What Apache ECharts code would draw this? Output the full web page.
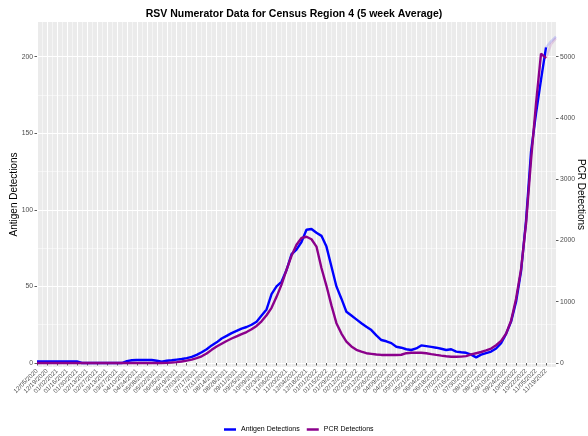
<!DOCTYPE html>
<html>
<head>
<meta charset="utf-8">
<script src="https://cdn.jsdelivr.net/npm/echarts@6/dist/echarts.min.js"></script>
<style>
  html, body { margin: 0; padding: 0; background: #fff; }
  #chart { width: 588px; height: 436px; }
</style>
</head>
<body>
<div id="chart"></div>
<script>
// Weekly 5-week averages, week 0 = 12/05/2020
const tickLabels = [
  '12/05/2020', '12/19/2020', '01/02/2021', '01/16/2021', '01/30/2021', '02/13/2021',
  '02/27/2021', '03/13/2021', '03/27/2021', '04/10/2021', '04/24/2021', '05/08/2021',
  '05/22/2021', '06/05/2021', '06/19/2021', '07/03/2021', '07/17/2021', '07/31/2021',
  '08/14/2021', '08/28/2021', '09/11/2021', '09/25/2021', '10/09/2021', '10/23/2021',
  '11/06/2021', '11/20/2021', '12/04/2021', '12/18/2021', '01/01/2022', '01/15/2022',
  '01/29/2022', '02/12/2022', '02/26/2022', '03/12/2022', '03/26/2022', '04/09/2022',
  '04/23/2022', '05/07/2022', '05/21/2022', '06/04/2022', '06/18/2022', '07/02/2022',
  '07/16/2022', '07/30/2022', '08/13/2022', '08/27/2022', '09/10/2022', '09/24/2022',
  '10/08/2022', '10/22/2022', '11/05/2022', '11/19/2022'
];

const antigen = [
  1, 1, 1, 1, 1, 1, 1, 1, 1,
  0, 0, 0, 0, 0, 0, 0, 0, 0,
  1.2, 1.8, 2, 2, 2, 2, 1.5, 0.8, 1.5, 1.8, 2.2,
  2.6, 3.2, 4, 5.3, 7, 9, 11.5, 13.5, 16, 17.7, 19.5,
  21, 22.5, 23.5, 25, 27, 31, 35, 45, 50, 53,
  60.7, 71, 74, 79, 87, 87.5, 85, 83, 76, 63,
  50, 42, 33.5, 31, 28.5, 26, 23.7, 21.5, 18, 15,
  14.2, 13, 10.6, 10, 9, 8.5, 9.5, 11.5, 11, 10.5,
  10, 9.3, 8.5, 9, 7.4, 7, 6.7, 5.5, 3.7, 5.5,
  6.5, 7.5, 9.5, 13, 19, 27, 40, 60, 93, 138,
  163, 185, 206
];
const antigenTail = [206, 210, 213]; // weeks 102-104, drawn faded

const pcr = [
  0, 0, 0, 0, 0, 0, 0, 0, 0, 0, 0, 0, 0, 0, 0, 0, 0, 0, 0, 0, 0, 0, 0, 0, 0, 0, 3,
  8, 15, 25, 40, 55, 80, 110, 155, 215, 270,
  315, 360, 400, 435, 470, 505, 550, 605, 680, 780,
  900, 1080, 1280, 1520, 1750, 1930, 2040, 2060, 2020, 1900,
  1550, 1260, 940, 650, 480, 350, 270, 215, 185, 160,
  150, 140, 132, 130, 130, 130, 135, 160, 168, 170,
  168, 160, 145, 132, 120, 110, 103, 102, 105, 112,
  140, 160, 180, 205, 235, 290, 360, 480, 690, 1050,
  1530, 2280, 3313, 4238, 5050, 4975
];
const pcrTail = [4975, 5200, 5300];

const leftTicks = [0, 50, 100, 150, 200];
const leftMinor = [25, 75, 125, 175];
const rightTicks = [0, 1000, 2000, 3000, 4000, 5000];

const FONT = 'Liberation Sans, Arial, sans-serif';
const TXT = '#4D4D4D';
const TICK = '#333333';
const BLUE = '#0000FF';
const PURPLE = '#8B008B';

const majorX = tickLabels.map((_, k) => 2 * k);
const minorX = tickLabels.map((_, k) => 2 * k + 1);
const pts = (arr, start) => arr.map((v, i) => [start + i, v]);

// ggplot-style minor grid lines, kept under the data lines
const minorGrid = {
  silent: true,
  symbol: 'none',
  z: 1,
  animation: false,
  label: { show: false },
  emphasis: { disabled: true },
  lineStyle: { color: '#fff', width: 0.5, type: 'solid', opacity: 1 },
  data: [
    ...leftMinor.map((v) => ({ yAxis: v })),
    ...minorX.map((v) => ({ xAxis: v })),
  ],
};

const chart = echarts.init(document.getElementById('chart'), null, { renderer: 'canvas' });

chart.setOption({
  backgroundColor: '#fff',
  animation: false,
  textStyle: { fontFamily: FONT },
  title: {
    text: 'RSV Numerator Data for Census Region 4 (5 week Average)',
    left: 'center',
    top: 4,
    textStyle: { fontSize: 10.5, fontWeight: 'bold', color: '#000', fontFamily: FONT },
  },
  legend: {
    left: 219,
    top: 421,
    itemWidth: 12,
    itemHeight: 2.5,
    itemGap: 7,
    icon: 'rect',
    data: ['Antigen Detections', 'PCR Detections'],
    textStyle: { fontSize: 7, color: '#000', fontFamily: FONT },
  },
  grid: {
    left: 37, right: 32, top: 22, bottom: 69,
    outerBoundsMode: 'none', containLabel: false,
    show: true, backgroundColor: '#EBEBEB', borderWidth: 0,
  },
  xAxis: {
    type: 'value', min: 0, max: 104,
    axisLine: { show: false },
    axisTick: { show: true, customValues: majorX, length: 2.5, lineStyle: { color: TICK, width: 0.8 } },
    axisLabel: {
      customValues: majorX, rotate: 45, fontSize: 6.3, color: TXT, margin: 3,
      fontFamily: FONT,
      formatter: (v) => tickLabels[Math.round(v / 2)] || '',
    },
    splitLine: { show: true, lineStyle: { color: '#fff', width: 1 } },
  },
  yAxis: [
    {
      type: 'value', position: 'left', min: -2.6, max: 222.6,
      name: 'Antigen Detections', nameLocation: 'middle', nameGap: 18, nameMoveOverlap: false,
      nameTextStyle: { fontSize: 10, color: '#000', fontFamily: FONT },
      axisLine: { show: false },
      axisTick: { show: true, customValues: leftTicks, length: 2.5, lineStyle: { color: TICK, width: 0.8 } },
      axisLabel: { customValues: leftTicks, fontSize: 6.8, color: TXT, margin: 4, fontFamily: FONT },
      splitLine: { show: true, lineStyle: { color: '#fff', width: 1 } },
    },
    {
      type: 'value', position: 'right', min: -65, max: 5565,
      name: 'PCR Detections', nameLocation: 'middle', nameGap: 20, nameRotate: -90,
      nameMoveOverlap: false,
      nameTextStyle: { fontSize: 10, color: '#000', fontFamily: FONT },
      axisLine: { show: false },
      axisTick: { show: true, customValues: rightTicks, length: 2.5, lineStyle: { color: TICK, width: 0.8 } },
      axisLabel: {
        customValues: rightTicks, fontSize: 6.8, color: TXT, margin: 4, fontFamily: FONT,
        formatter: (v) => String(v),
      },
      splitLine: { show: false },
    },
  ],
  series: [
    {
      name: 'Antigen Detections', type: 'line', xAxisIndex: 0, yAxisIndex: 0,
      data: pts(antigen, 0), showSymbol: false, color: BLUE,
      lineStyle: { color: BLUE, width: 2.4 },
      markLine: minorGrid,
    },
    {
      name: 'Antigen tail', type: 'line', xAxisIndex: 0, yAxisIndex: 0,
      data: pts(antigenTail, 102), showSymbol: false, color: BLUE,
      lineStyle: { color: BLUE, width: 2.4, opacity: 0.15 },
    },
    {
      name: 'PCR Detections', type: 'line', xAxisIndex: 0, yAxisIndex: 1,
      data: pts(pcr, 0), showSymbol: false, color: PURPLE,
      lineStyle: { color: PURPLE, width: 2.4 },
    },
    {
      name: 'PCR tail', type: 'line', xAxisIndex: 0, yAxisIndex: 1,
      data: pts(pcrTail, 102), showSymbol: false, color: PURPLE,
      lineStyle: { color: PURPLE, width: 2.4, opacity: 0.15 },
    },
  ],
});
</script>
</body>
</html>
